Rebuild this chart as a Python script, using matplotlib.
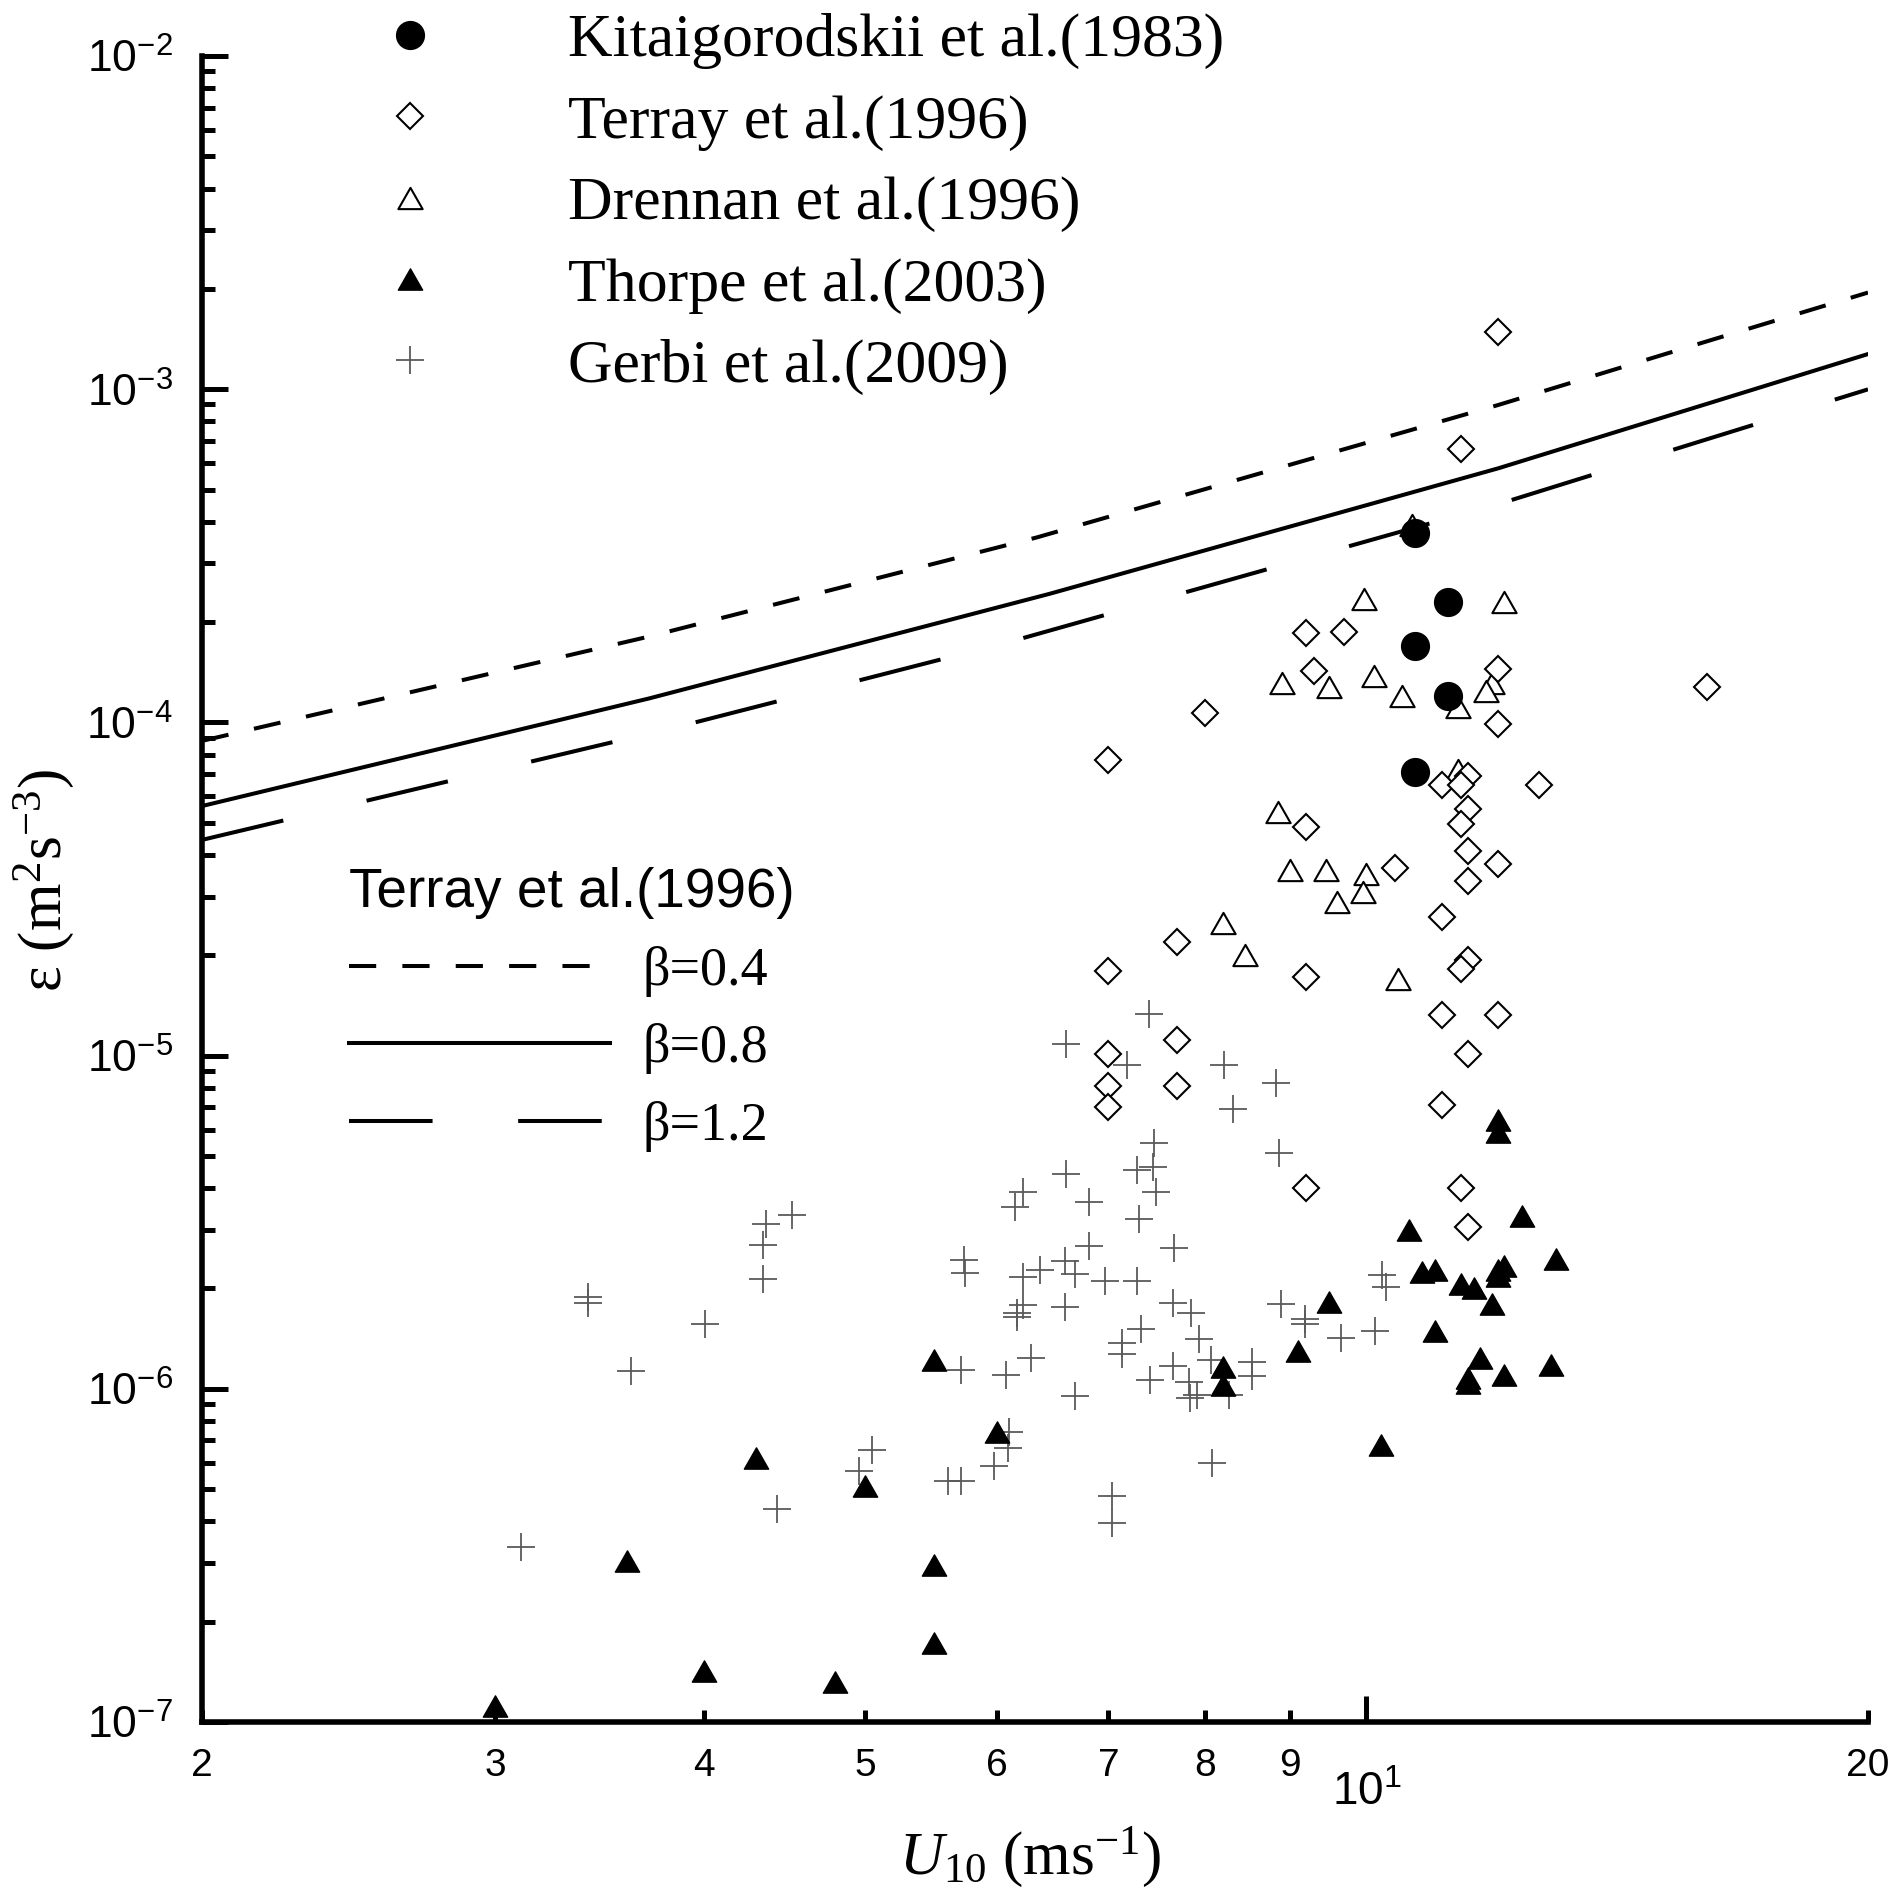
import numpy as np
import matplotlib
matplotlib.use("Agg")
import matplotlib.pyplot as plt
from matplotlib.ticker import LogLocator, FuncFormatter, NullFormatter
from matplotlib.path import Path

# ---------------- data ----------------
kita_u = [10.7, 11.2, 10.7, 11.2, 10.7]
kita_eps = [3.7e-4, 2.3e-4, 1.7e-4, 1.2e-4, 7.1e-5]

terray_u = [12.0, 11.4, 9.2, 9.7, 9.3, 12.0, 16.0, 8.0, 12.0, 7.0,
            11.5, 11.1, 11.4, 12.7, 11.5, 11.4, 9.2, 11.5, 12.0, 10.4,
            11.5, 11.1, 7.7, 7.0, 9.2, 11.5, 11.4, 11.1, 12.0, 7.7,
            7.0, 11.5, 7.0, 7.7, 7.0, 11.1, 9.2, 11.4, 11.5]
terray_eps = [1.48e-3, 6.6e-4, 1.86e-4, 1.87e-4, 1.43e-4, 1.45e-4, 1.28e-4, 1.07e-4, 9.9e-5, 7.7e-5,
              6.9e-5, 6.5e-5, 6.5e-5, 6.5e-5, 5.5e-5, 4.95e-5, 4.85e-5, 4.1e-5, 3.75e-5, 3.65e-5,
              3.35e-5, 2.6e-5, 2.2e-5, 1.8e-5, 1.72e-5, 1.94e-5, 1.82e-5, 1.32e-5, 1.32e-5, 1.11e-5,
              1.01e-5, 1.01e-5, 8.1e-6, 8.1e-6, 7.0e-6, 7.1e-6, 4.0e-6, 4.0e-6, 3.05e-6]

drennan_u = [9.97, 12.1, 8.9, 9.5, 10.1, 10.5, 11.9, 11.8, 11.35, 10.65,
             11.35, 8.85, 9.0, 9.45, 10.0, 9.6, 9.95, 8.2, 8.45, 10.45]
drennan_eps = [2.35e-4, 2.3e-4, 1.31e-4, 1.28e-4, 1.38e-4, 1.2e-4, 1.31e-4, 1.24e-4, 1.11e-4, 3.9e-4,
               7.2e-5, 5.4e-5, 3.6e-5, 3.6e-5, 3.5e-5, 2.9e-5, 3.1e-5, 2.5e-5, 2.0e-5, 1.7e-5]

thorpe_u = [12.0, 12.0, 10.6, 12.4, 13.0, 10.8, 11.0, 12.0, 12.1, 12.0,
            11.4, 11.6, 11.9, 9.5, 11.0, 9.1, 11.7, 12.9, 12.1, 11.5,
            11.5, 8.2, 8.2, 10.2, 5.5, 6.0, 4.3, 5.0, 3.6, 4.0,
            4.8, 3.0, 5.5, 5.5]
thorpe_eps = [6.4e-6, 5.9e-6, 3.0e-6, 3.3e-6, 2.45e-6, 2.24e-6, 2.27e-6, 2.27e-6, 2.34e-6, 2.18e-6,
              2.07e-6, 2.01e-6, 1.8e-6, 1.82e-6, 1.49e-6, 1.3e-6, 1.24e-6, 1.18e-6, 1.1e-6, 1.08e-6,
              1.04e-6, 1.16e-6, 1.03e-6, 6.8e-7, 1.22e-6, 7.4e-7, 6.2e-7, 5.1e-7, 3.05e-7, 1.42e-7,
              1.32e-7, 1.12e-7, 2.96e-7, 1.73e-7]

gerbi_u = [4.52, 4.36, 4.34, 4.34, 3.41, 3.41, 4.01, 3.62, 7.40, 6.60,
           7.18, 8.21, 8.83, 8.31, 7.46, 8.86, 7.28, 7.44, 6.22, 6.15,
           6.60, 7.48, 6.81, 7.30, 6.81, 7.66, 5.73, 5.74, 6.59, 6.68,
           6.37, 6.22, 6.97, 7.28, 6.22, 6.17, 6.17, 6.59, 7.65, 7.85,
           8.89, 9.18, 9.18, 10.21, 10.28, 9.66, 10.12, 7.32, 7.13, 7.13,
           7.93, 6.29, 5.71, 6.08, 7.65, 8.07, 8.54, 8.54, 7.41, 7.83,
           7.91, 7.84, 8.27, 6.68, 6.10, 5.05, 4.96, 4.43, 3.11, 6.09,
           5.98, 5.61, 5.71, 7.03, 7.03, 8.08]
gerbi_eps = [3.32e-6, 3.12e-6, 2.71e-6, 2.13e-6, 1.88e-6, 1.81e-6, 1.57e-6, 1.13e-6, 1.33e-5, 1.08e-5,
             9.4e-6, 9.4e-6, 8.3e-6, 6.9e-6, 5.45e-6, 5.1e-6, 4.54e-6, 4.64e-6, 3.9e-6, 3.52e-6,
             4.4e-6, 3.89e-6, 3.64e-6, 3.23e-6, 2.68e-6, 2.64e-6, 2.43e-6, 2.22e-6, 2.42e-6, 2.21e-6,
             2.27e-6, 2.17e-6, 2.10e-6, 2.10e-6, 1.78e-6, 1.69e-6, 1.64e-6, 1.76e-6, 1.81e-6, 1.69e-6,
             1.80e-6, 1.62e-6, 1.57e-6, 2.19e-6, 2.02e-6, 1.42e-6, 1.49e-6, 1.51e-6, 1.37e-6, 1.27e-6,
             1.41e-6, 1.24e-6, 1.14e-6, 1.10e-6, 1.17e-6, 1.22e-6, 1.20e-6, 1.09e-6, 1.06e-6, 1.05e-6,
             9.6e-7, 9.4e-7, 9.6e-7, 9.5e-7, 7.4e-7, 6.55e-7, 5.66e-7, 4.35e-7, 3.34e-7, 6.66e-7,
             5.88e-7, 5.29e-7, 5.29e-7, 4.77e-7, 3.96e-7, 6.0e-7]

# Terray et al. (1996) model curves
beta04_u = [2.0, 3.71, 6.34, 12.0, 15.84, 20.0]
beta04_eps = [8.8e-5, 1.81e-4, 3.59e-4, 8.97e-4, 1.37e-3, 1.95e-3]
beta08_u = [2.0, 3.71, 6.45, 12.0, 15.84, 20.0]
beta08_eps = [5.61e-5, 1.18e-4, 2.43e-4, 5.79e-4, 8.89e-4, 1.275e-3]
beta12_u = [2.0, 3.92, 6.12, 12.0, 15.84, 20.0]
beta12_eps = [4.44e-5, 9.89e-5, 1.75e-4, 4.52e-4, 6.96e-4, 9.99e-4]

legend_labels = ["Kitaigorodskii et al.(1983)", "Terray et al.(1996)",
                 "Drennan et al.(1996)", "Thorpe et al.(2003)", "Gerbi et al.(2009)"]
model_title = "Terray et al.(1996)"
model_labels = ["β=0.4", "β=0.8", "β=1.2"]

# ---------------- style ----------------
SERIF = "Liberation Serif"
SANS = "Liberation Sans"
plt.rcParams["font.family"] = [SERIF, "DejaVu Serif"]
plt.rcParams["mathtext.fontset"] = "custom"
plt.rcParams["mathtext.rm"] = SERIF
plt.rcParams["mathtext.it"] = SERIF + ":italic"
plt.rcParams["mathtext.bf"] = SERIF + ":bold"
plt.rcParams["mathtext.sf"] = SANS

W, H = 1900, 1898
fig = plt.figure(figsize=(W / 100, H / 100), dpi=100)
ax = fig.add_axes([202 / W, 1 - 1722 / H, (1868 - 202) / W, (1722 - 56) / H])

ax.set_xscale("log")
ax.set_yscale("log")
ax.set_xlim(2, 20)
ax.set_ylim(1e-7, 1e-2)

LW = 2.9
l04, = ax.plot(beta04_u, beta04_eps, color="black", lw=LW, linestyle=(0, (6.75, 6.5)))
l08, = ax.plot(beta08_u, beta08_eps, color="black", lw=LW, linestyle="-")
l12, = ax.plot(beta12_u, beta12_eps, color="black", lw=LW, linestyle=(0, (20.75, 21.25)))

tri = Path([(0, 0.875), (-1, -0.875), (1, -0.875), (0, 0.875)],
           [Path.MOVETO, Path.LINETO, Path.LINETO, Path.CLOSEPOLY])
h_g, = ax.plot(gerbi_u, gerbi_eps, linestyle="none", marker="+", ms=20, mew=1.3, color="#5a5a5a")
h_t, = ax.plot(thorpe_u, thorpe_eps, linestyle="none", marker=tri, ms=17.5, color="black", mec="black")
h_d, = ax.plot(drennan_u, drennan_eps, linestyle="none", marker=tri, ms=17.5, mfc="white", mec="black", mew=1.5)
h_r, = ax.plot(terray_u, terray_eps, linestyle="none", marker="D", ms=13.5, mfc="white", mec="black", mew=1.5)
h_k, = ax.plot(kita_u, kita_eps, linestyle="none", marker="o", ms=20, color="black")

# spines
for s in ["top", "right"]:
    ax.spines[s].set_visible(False)
for s in ["left", "bottom"]:
    ax.spines[s].set_linewidth(4.0)

# ticks
ax.xaxis.set_major_locator(LogLocator(base=10, subs=(1.0,)))
ax.xaxis.set_minor_locator(LogLocator(base=10, subs=np.arange(2, 10)))
ax.xaxis.set_major_formatter(FuncFormatter(lambda v, p: r"$\mathsf{10^{%d}}$" % round(np.log10(v))))
ax.xaxis.set_minor_formatter(FuncFormatter(lambda v, p: "%d" % round(v)))
ax.yaxis.set_major_locator(LogLocator(base=10, subs=(1.0,), numticks=20))
ax.yaxis.set_minor_locator(LogLocator(base=10, subs=np.arange(2, 10), numticks=20))
ax.yaxis.set_major_formatter(FuncFormatter(lambda v, p: r"$\mathsf{10^{%d}}$" % round(np.log10(v))))
ax.yaxis.set_minor_formatter(NullFormatter())

ax.tick_params(axis="both", which="both", direction="in", width=3.6, color="black")
ax.tick_params(axis="x", which="major", length=19, labelsize=33, pad=35)
ax.tick_params(axis="x", which="minor", length=9, labelsize=28, pad=19, labelfontfamily=SANS)
ax.tick_params(axis="y", which="major", length=19, labelsize=32, pad=21)
ax.tick_params(axis="y", which="minor", length=9)

# axis labels
ax.set_xlabel(r"$U_{\mathrm{10}}$ (ms$^{-1}$)", fontsize=44, family=SERIF)
ax.xaxis.set_label_coords(0.497, -0.062)
ax.set_ylabel(r"ε (m$^{2}$s$^{-3}$)", fontsize=44, family=SERIF)
ax.yaxis.set_label_coords(-0.0755, 0.505)

# model legend
leg2 = ax.legend([l04, l08, l12], model_labels, loc="upper left",
                 bbox_to_anchor=(349 / W, 1 - 867 / H), bbox_transform=fig.transFigure,
                 frameon=False, borderpad=0, borderaxespad=0, handlelength=4.82,
                 handletextpad=0.59, labelspacing=0.49,
                 prop={"family": SERIF, "size": 39},
                 title=model_title, title_fontproperties={"family": SANS, "size": 39.5},
                 alignment="left")
ax.add_artist(leg2)

# data legend
leg1 = ax.legend([h_k, h_r, h_d, h_t, h_g], legend_labels, loc="upper left",
                 bbox_to_anchor=(379 / W, 1 - 13 / H), bbox_transform=fig.transFigure,
                 frameon=False, borderpad=0, borderaxespad=0, handlelength=1.0,
                 handletextpad=2.06, labelspacing=0.406, numpoints=1,
                 prop={"family": SERIF, "size": 44.5})

fig.savefig("out.png", dpi=100)
